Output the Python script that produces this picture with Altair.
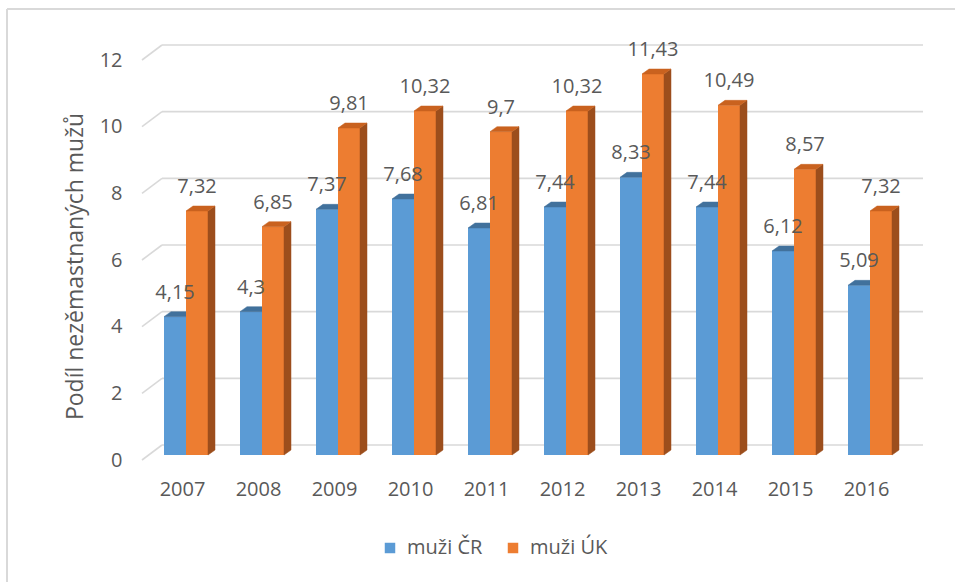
import altair as alt
import pandas as pd

# --- data -------------------------------------------------------------
years = list(range(2007, 2017))
muzi_cr = [4.15, 4.3, 7.37, 7.68, 6.81, 7.44, 8.33, 7.44, 6.12, 5.09]
muzi_uk = [7.32, 6.85, 9.81, 10.32, 9.7, 10.32, 11.43, 10.49, 8.57, 7.32]
series_names = ["muži ČR", "muži ÚK"]
y_ticks = [0, 2, 4, 6, 8, 10, 12]

# --- geometry of the pseudo-3D columns (in scale units) ---------------
PX_PER_YEAR = 76.0
PX_PER_UNIT = 400.0 / 12.0
HALF = 22 / PX_PER_YEAR          # width of one column
DX = 7 / PX_PER_YEAR             # depth of the column, horizontal part
DY = 5 / PX_PER_UNIT             # depth of the column, vertical part
WALL_BACK = 10 / PX_PER_UNIT     # back wall sits above the column plane
WALL_FRONT = 5 / PX_PER_UNIT     # front edge sits below it

TEXT = "#595959"
FONT = "Open Sans"
GRID = "#D9D9D9"
colors = {"muži ČR": "#5B9BD5", "muži ÚK": "#ED7D31"}
top_colors = {"muži ČR": "#41719C", "muži ÚK": "#C9621F"}
side_color = "#9C4E1C"

# front faces
front_rows = []
for yr, a, b in zip(years, muzi_cr, muzi_uk):
    front_rows.append(dict(year=yr, series=series_names[0], value=a, x0=yr - HALF, x1=yr))
    front_rows.append(dict(year=yr, series=series_names[1], value=b, x0=yr, x1=yr + HALF))
front = pd.DataFrame(front_rows)
front["xc"] = (front["x0"] + front["x1"]) / 2
front["label"] = front["value"].map(lambda v: f"{v:g}".replace(".", ","))

# top faces: parallelogram outlines, vertex order given by k
top_rows = []
for i, r in front.iterrows():
    xl, xr, v = r["x0"], r["x1"], r["value"]
    pts = [(xl, v), (xr, v), (xr + DX, v + DY), (xl + DX, v + DY)]
    for k, (px, py) in enumerate(pts):
        top_rows.append(dict(bar=f"b{i}", series=r["series"], pos=px, py=py, k=k))
tops = pd.DataFrame(top_rows)

# right-hand side faces of the orange columns
side_rows = []
for i, r in front[front["series"] == series_names[1]].iterrows():
    xr, v = r["x1"], r["value"]
    pts = [(xr, 0.0), (xr, v), (xr + DX, v + DY), (xr + DX, DY)]
    for k, (px, py) in enumerate(pts):
        side_rows.append(dict(bar=f"b{i}", pos=px, py=py, k=k))
sides = pd.DataFrame(side_rows)

grid = pd.DataFrame({"v": y_ticks})
grid["back"] = grid["v"] + WALL_BACK
grid["front"] = grid["v"] - WALL_FRONT

# --- scales and axes --------------------------------------------------
x_scale = alt.Scale(domain=[2007 - 44 / PX_PER_YEAR, 2007 + 717 / PX_PER_YEAR], nice=False, zero=False)
y_scale = alt.Scale(domain=[0, 12], nice=False, zero=False)
x_axis = alt.Axis(
    values=years, format="d", domain=False, ticks=False, grid=False,
    labelPadding=24, labelOffset=-4, labelFont=FONT, labelFontSize=20,
    labelColor=TEXT, title=None,
)
y_axis = alt.Axis(
    values=y_ticks, domain=False, ticks=False, grid=False,
    labelPadding=20, labelOffset=5, labelFont=FONT, labelFontSize=20,
    labelColor=TEXT, title="Podíl nezěmastnaných mužů", titleFont=FONT,
    titleFontSize=23, titleFontWeight="normal", titleColor=TEXT,
    titlePadding=12, titleY=211,
)
X = lambda f: alt.X(f, type="quantitative", scale=x_scale, axis=x_axis)
Y = lambda f: alt.Y(f, type="quantitative", scale=y_scale, axis=y_axis, stack=None)

color = alt.Color(
    "series:N",
    scale=alt.Scale(domain=series_names, range=[colors[s] for s in series_names]),
    legend=alt.Legend(
        orient="none", legendX=238, legendY=483, direction="horizontal", title=None,
        symbolType="square", symbolSize=110, symbolStrokeWidth=0,
        labelFont=FONT, labelFontSize=20, labelColor=TEXT, labelOffset=7,
        columnPadding=20,
    ),
)

# back wall gridlines and their diagonal edge segments
grid_lines = alt.Chart(grid).mark_rule(color=GRID, strokeWidth=1.6).encode(
    x=alt.value(20), x2=alt.value(781), y=Y("back")
)
diag_lines = alt.Chart(grid).mark_rule(color=GRID, strokeWidth=1.6).encode(
    x=alt.value(0), x2=alt.value(20), y=Y("front"), y2="back"
)

def front_layer(name):
    return alt.Chart(front[front["series"] == name]).mark_bar().encode(
        x=X("x0"), x2="x1", y=Y("value"), y2=alt.datum(0), color=color
    )

def face_layer(df, fill):
    # a closed, filled outline through the face's vertices
    return alt.Chart(df).mark_line(
        fill=fill, stroke=fill, strokeWidth=0.5, interpolate="linear-closed"
    ).encode(x=X("pos"), y=Y("py"), detail="bar:N", order="k:Q")

labels = alt.Chart(front).mark_text(
    font=FONT, fontSize=20, color=TEXT, baseline="alphabetic", dy=-18
).encode(x=X("xc"), y=Y("value"), text="label:N")

one = pd.DataFrame({"k": [0]})
frame_top = alt.Chart(one).mark_rule(color=GRID, strokeWidth=2).encode(
    x=alt.value(-135), x2=alt.value(813), y=alt.value(-46)
)
frame_left = alt.Chart(one).mark_rule(color=GRID, strokeWidth=2).encode(
    x=alt.value(-135), y=alt.value(-46), y2=alt.value(527)
)

chart = alt.layer(
    frame_top, frame_left, grid_lines, diag_lines,
    front_layer(series_names[0]),
    face_layer(tops[tops["series"] == series_names[0]], top_colors[series_names[0]]),
    front_layer(series_names[1]),
    face_layer(sides, side_color),
    face_layer(tops[tops["series"] == series_names[1]], top_colors[series_names[1]]),
    labels,
).properties(
    width=761, height=400,
    padding={"left": 142, "top": 55, "right": 52, "bottom": 127},
    autosize="none",
).configure(background="white", view=alt.ViewConfig(stroke=None))

chart.save("out.html", embed_options={"renderer": "svg", "actions": False})
